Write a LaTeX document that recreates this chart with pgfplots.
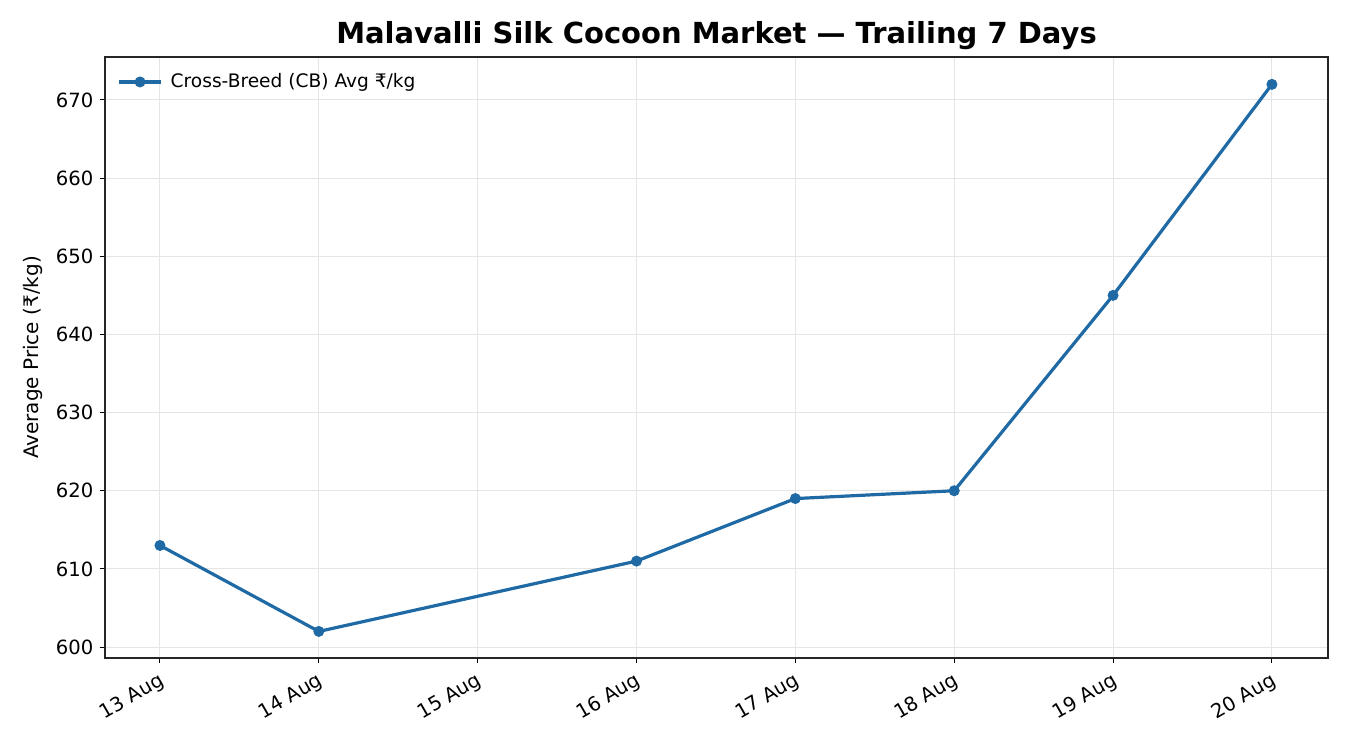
\documentclass[border=0pt]{standalone}
\usepackage{pgfplots}
\pgfplotsset{compat=1.18}
\usepackage{fontspec}
\setmainfont{DejaVu Sans}
\definecolor{cbblue}{RGB}{31,106,165}
\begin{document}
\begin{tikzpicture}
\begin{axis}[
  at={(0,0)}, anchor=south west,
  scale only axis,
  width=611.5pt, height=300.5pt,
  xmin=-0.346, xmax=7.353,
  ymin=598.6, ymax=675.5,
  xtick={0,1,2,3,4,5,6,7},
  xticklabels={13 Aug,14 Aug,15 Aug,16 Aug,17 Aug,18 Aug,19 Aug,20 Aug},
  ytick={600,610,620,630,640,650,660,670},
  /pgf/number format/assume math mode=true,
  ticklabel style={font=\fontsize{9.8}{12}\selectfont},
  xticklabel style={rotate=30, anchor=north east, inner sep=1.5pt, xshift=-1.5pt, yshift=-1.5pt},
  yticklabel style={inner sep=3pt},
  tick align=outside,
  major tick length=2.6pt,
  tick style={black, line width=0.5pt},
  xtick pos=bottom, ytick pos=left,
  axis line style={line width=0.6pt, black!85},
  grid=major,
  grid style={black!10, line width=0.5pt},
  ylabel={Average Price (₹/kg)},
  every axis y label/.style={at={(rel axis cs:0,0.5)}, anchor=center, xshift=-36pt, rotate=90, font=\fontsize{10}{12}\selectfont},
  title={\textbf{Malavalli Silk Cocoon Market — Trailing 7 Days}},
  title style={font=\fontsize{14.5}{17}\selectfont, at={(0.5,1)}, anchor=center, yshift=4.5pt},
  legend style={draw=none, fill=none, at={(0,1)}, anchor=north west, xshift=3pt, yshift=-4pt,
    font=\fontsize{9.3}{11}\selectfont, legend cell align=left,
    nodes={inner xsep=4pt}},
  legend image code/.code={
    \draw[#1, mark repeat=2, mark phase=2] plot coordinates {(0cm,0cm) (0.37cm,0cm) (0.74cm,0cm)};
  },
]
\addplot[cbblue, line width=1.6pt, mark=*, mark size=1.9pt, mark options={solid}]
  coordinates {(0,613) (1,602) (3,611) (4,619) (5,620) (6,645) (7,672)};
\addlegendentry{Cross-Breed (CB) Avg ₹/kg}
\end{axis}
\path[use as bounding box] (-52.5pt,-46pt) rectangle (622.5pt,329pt);
\end{tikzpicture}
\end{document}
